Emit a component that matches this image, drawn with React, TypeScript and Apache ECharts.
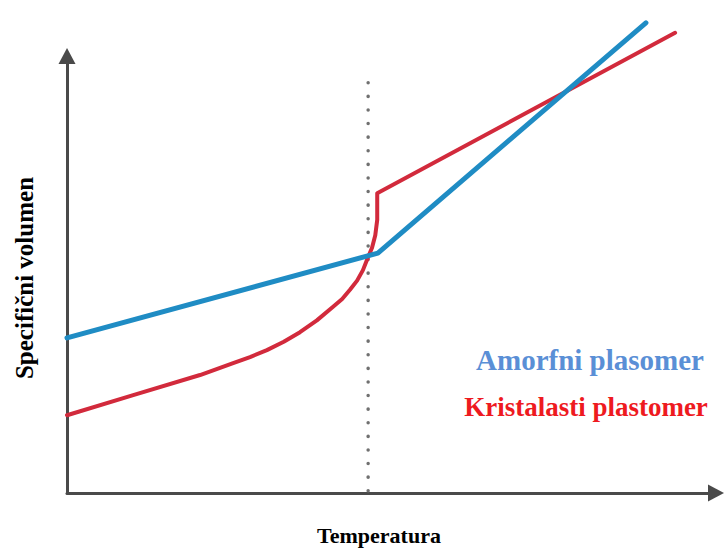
import React, { useEffect, useRef } from "react";
import * as echarts from "echarts";

// Data in arbitrary units (x: temperature 0..100, y: specific volume 0..100)
const amorphousX = [0, 47.9, 89.2];
const amorphousY = [35.5, 54.9, 107.6];

const crystalX = [0, 10.2, 20.5, 25.6, 28.2, 30.8, 33.4, 35.9, 38.5, 41.0, 42.4, 43.6, 44.7, 45.6, 46.4, 47.0, 47.5, 47.8, 47.8, 93.7];
const crystalY = [17.8, 22.4, 27.0, 29.7, 31.1, 32.7, 34.6, 36.8, 39.5, 42.6, 44.4, 46.5, 48.6, 51.0, 54.0, 56.1, 59.0, 62.5, 68.6, 105.3];

const glassX = [46.4, 46.4];
const glassY = [0.5, 96.3];

const xName = "Temperatura";
const yName = "Specifični volumen";
const amorphousLabel = "Amorfni plasomer";
const crystalLabel = "Kristalasti plastomer";

const zip = (xs: number[], ys: number[]) => xs.map((x, i) => [x, ys[i]]);

const FONT = "'Liberation Serif', 'Times New Roman', serif";

export default function App() {
  const ref = useRef<HTMLDivElement>(null);
  useEffect(() => {
    if (!ref.current) return;
    const chart = echarts.init(ref.current, null, { renderer: "svg" });
    const axisCommon = {
      type: "value" as const,
      min: 0,
      max: 100,
      splitLine: { show: false },
      axisTick: { show: false },
      axisLabel: { show: false },
      axisLine: {
        show: true,
        symbol: ["none", "triangle"],
        symbolSize: [17, 16],
        lineStyle: { color: "#4a4a4a", width: 3 },
      },
    };
    chart.setOption({
      animation: false,
      backgroundColor: "#ffffff",
      grid: { left: 67, right: 8, top: 56, bottom: 57 },
      xAxis: { ...axisCommon },
      yAxis: { ...axisCommon },
      series: [
        {
          type: "line",
          data: zip(glassX, glassY),
          symbol: "none",
          clip: false,
          lineStyle: { color: "#707070", width: 3.5, type: [0.1, 13.5], cap: "round" },
          z: 1,
        },
        {
          type: "line",
          data: zip(crystalX, crystalY),
          symbol: "none",
          clip: false,
          lineStyle: { color: "#d22a3c", width: 4, join: "round", cap: "round" },
          z: 2,
        },
        {
          type: "line",
          data: zip(amorphousX, amorphousY),
          symbol: "none",
          clip: false,
          lineStyle: { color: "#1f8cc4", width: 5, join: "round", cap: "round" },
          z: 3,
        },
      ],
      graphic: [
        {
          type: "text",
          x: 379,
          y: 535,
          style: {
            text: xName,
            font: `bold 22px ${FONT}`,
            fill: "#000",
            align: "center",
            verticalAlign: "middle",
          },
        },
        {
          type: "text",
          x: 24,
          y: 278,
          rotation: Math.PI / 2,
          style: {
            text: yName,
            font: `bold 25px ${FONT}`,
            fill: "#000",
            align: "center",
            verticalAlign: "middle",
          },
        },
        {
          type: "text",
          x: 590,
          y: 360,
          style: {
            text: amorphousLabel,
            font: `bold 29px ${FONT}`,
            fill: "#5a8fd6",
            align: "center",
            verticalAlign: "middle",
          },
        },
        {
          type: "text",
          x: 586,
          y: 407,
          style: {
            text: crystalLabel,
            font: `bold 27px ${FONT}`,
            fill: "#ee1a1f",
            align: "center",
            verticalAlign: "middle",
          },
        },
      ],
    });
    return () => chart.dispose();
  }, []);
  return (
    <div
      ref={ref}
      style={{ position: "absolute", left: 0, top: 0, width: 724, height: 550 }}
    />
  );
}
